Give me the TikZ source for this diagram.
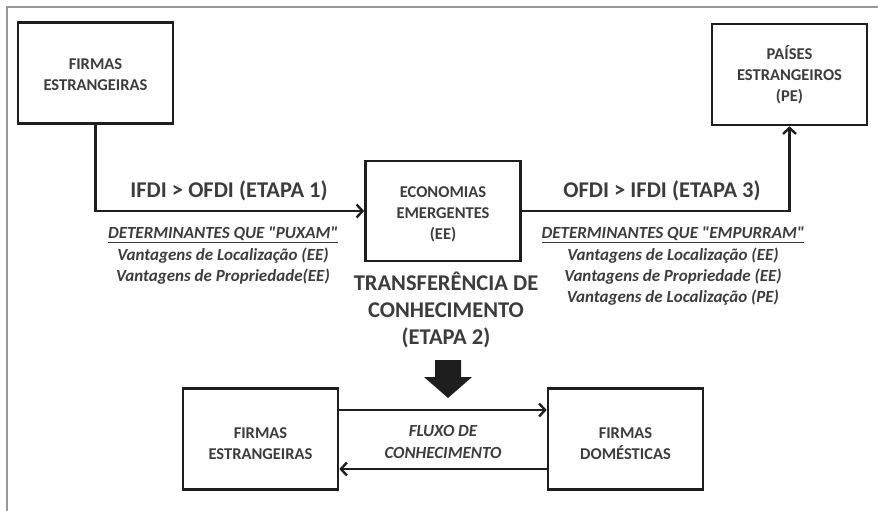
\documentclass[tikz,border=0pt]{standalone}
\usepackage{fontspec}
\setmainfont{Carlito}[Ligatures=TeXOff]
\usetikzlibrary{arrows.meta}
\definecolor{txt}{HTML}{3C3C3C}
\definecolor{ln}{HTML}{1E1E1E}
\newcommand{\lift}[1]{\rule{0pt}{#1pt}}
\begin{document}
\begin{tikzpicture}[x=1pt,y=-1pt,
  box/.style={draw=ln,line width=2.6pt,minimum width=155pt,minimum height=101pt,inner sep=0pt,
    align=center,text=txt,font=\fontsize{16.5}{21}\selectfont\bfseries},
  conn/.style={draw=ln,line width=2.6pt,-{Straight Barb[length=6pt,width=13pt,line width=2.4pt]}},
  bigl/.style={text=txt,font=\fontsize{22.5}{27}\selectfont\bfseries,align=center,inner sep=0pt},
  itl/.style={text=txt,font=\fontsize{17}{21.3}\selectfont\bfseries\itshape,align=center,inner sep=0pt}]
\useasboundingbox (0,0) rectangle (878,511);
% frame
\draw[color=gray!80,line width=1.8pt] (7,511) -- (7,7) -- (878,7);
% boxes
\node[box] (fe) at (95.5,73) {\lift{15}FIRMAS\\ESTRANGEIRAS};
\node[box,minimum height=100pt] (ee) at (443,211) {\lift{17.5}ECONOMIAS\\EMERGENTES\\(EE)};
\node[box] (pe) at (789.5,74.5) {PAÍSES\\ESTRANGEIROS\\(PE)};
\node[box] (bl) at (260.5,439) {\lift{20}FIRMAS\\ESTRANGEIRAS};
\node[box] (br) at (625.5,439) {\lift{20}FIRMAS\\DOMÉSTICAS};
% connectors
\draw[conn] (fe.south) |- (ee.west);
\draw[conn] (ee.east) -| (pe.south);
\draw[conn] ([yshift=29pt]bl.east) -- ([yshift=29pt]br.west);
\draw[conn] ([yshift=-30pt]br.west) -- ([yshift=-30pt]bl.east);
% labels
\node[bigl] (l1) at (229,191) {IFDI > OFDI (ETAPA 1)};
\node[bigl] (l3) at (662,191) {OFDI > IFDI (ETAPA 3)};
\node[itl,anchor=north] (d1) at (223,227) {\underline{DETERMINANTES QUE "PUXAM"}\\Vantagens de Localização (EE)\\Vantagens de Propriedade(EE)};
\node[itl,anchor=north] (d3) at (673,227) {\underline{DETERMINANTES QUE "EMPURRAM"}\\Vantagens de Localização (EE)\\Vantagens de Propriedade (EE)\\Vantagens de Localização (PE)};
\node[bigl] (tc) at (446,310) {TRANSFERÊNCIA DE\\CONHECIMENTO\\(ETAPA 2)};
\node[itl] (fx) at (443,442) {FLUXO DE\\CONHECIMENTO};
% block arrow
\coordinate (ba) at (448,360);
\fill[ln] ([xshift=-13pt]ba) -- ([xshift=13pt]ba) -- ([shift={(13pt,-17pt)}]ba) -- ([shift={(24pt,-17pt)}]ba)
  -- ([shift={(0pt,-38pt)}]ba) -- ([shift={(-24pt,-17pt)}]ba) -- ([shift={(-13pt,-17pt)}]ba) -- cycle;
\end{tikzpicture}
\end{document}
